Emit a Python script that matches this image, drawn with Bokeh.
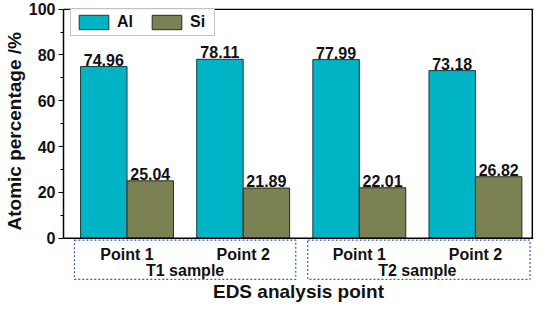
from bokeh.plotting import figure
from bokeh.models import (ColumnDataSource, Range1d, FixedTicker, Legend, LegendItem, Span,
                          Title)
from bokeh.embed import file_html
from bokeh.resources import INLINE
from bokeh.core.properties import value

points = ["Point 1", "Point 2", "Point 1", "Point 2"]
groups = ["T1 sample", "T2 sample"]
al = [74.96, 78.11, 77.99, 73.18]
si = [25.04, 21.89, 22.01, 26.82]

FONT = "Liberation Sans"
AL_COLOR = "#00B4C6"
SI_COLOR = "#7B8153"
TXT = "#111111"

pos = [1, 2, 3, 4]
group_pos = [1.5, 3.5]
bw = 0.4
X_LOW, X_HIGH = 0.453, 4.50
Y_LOW, Y_HIGH = -18.5, 100.3
src_al = ColumnDataSource(dict(x=[q - bw / 2 for q in pos], top=al, lab=[f"{v:.2f}" for v in al]))
src_si = ColumnDataSource(dict(x=[q + bw / 2 for q in pos], top=si, lab=[f"{v:.2f}" for v in si]))

# the frame extends below 0 so that the sample boxes can be drawn inside it
p = figure(width=534, height=304, output_backend="svg", toolbar_location=None,
           x_range=Range1d(X_LOW, X_HIGH), y_range=Range1d(Y_LOW, Y_HIGH),
           min_border_left=60, min_border_right=1, min_border_top=8, min_border_bottom=24)
p.background_fill_color = "white"
p.border_fill_color = "white"
p.grid.visible = False
p.outline_line_color = None

r_al = p.vbar(x="x", top="top", width=bw, source=src_al, fill_color=AL_COLOR,
              line_color="#1b3a3c", line_width=1)
r_si = p.vbar(x="x", top="top", width=bw, source=src_si, fill_color=SI_COLOR,
              line_color="#2a2a1a", line_width=1)

for s in (src_al, src_si):
    p.text(x="x", y="top", text="lab", source=s, text_align="center", text_baseline="bottom",
           y_offset=-1, text_font=value(FONT), text_font_style="bold",
           text_font_size="16px", text_color=TXT)

# box lines: bottom (0), top (100) and right side
p.add_layout(Span(location=0, dimension="width", line_color="black", line_width=1.5))
p.add_layout(Span(location=100, dimension="width", line_color="black", line_width=1.5))
p.segment(x0=[X_HIGH - 0.01], y0=[0], x1=[X_HIGH - 0.01], y1=[100],
          line_color="black", line_width=1.5)

# y axis
ya = p.left[0]
ya.bounds = (0, 100)
ya.ticker = FixedTicker(ticks=[0, 20, 40, 60, 80, 100], minor_ticks=[10, 30, 50, 70, 90])
ya.major_tick_in = 0
ya.major_tick_out = 5
ya.minor_tick_in = 0
ya.minor_tick_out = 3
ya.axis_line_width = 1.5
ya.major_label_text_font = FONT
ya.major_label_text_font_style = "bold"
ya.major_label_text_font_size = "16px"
ya.major_label_text_color = TXT
ya.major_label_standoff = 3

# y title placed along the 0-100 part of the axis
p.add_layout(Title(text="Atomic percentage /%", align="left", offset=50, standoff=2,
                   text_font=FONT, text_font_style="bold", text_font_size="19px",
                   text_color=TXT), "left")

# x axis: only the title
xa = p.below[0]
xa.ticker = FixedTicker(ticks=[])
xa.axis_line_color = None
xa.major_tick_out = 0
xa.minor_tick_out = 0
xa.major_label_standoff = 0
xa.axis_label = "EDS analysis point"
xa.axis_label_text_font = FONT
xa.axis_label_text_font_style = "bold"
xa.axis_label_text_font_size = "19px"
xa.axis_label_text_color = TXT
xa.axis_label_standoff = 0

# point labels, sample labels and dashed sample boxes
p.text(x=pos, y=[-7.0] * len(pos), text=points, text_align="center", text_baseline="middle",
       text_font=value(FONT), text_font_style="bold", text_font_size="16px", text_color=TXT)
p.text(x=group_pos, y=[-14.0] * len(group_pos), text=groups, text_align="center",
       text_baseline="middle", text_font=value(FONT), text_font_style="bold",
       text_font_size="16px", text_color=TXT)
p.quad(left=[0.547, 2.556], right=[2.453, 4.47], top=[-0.9, -0.9], bottom=[-18.0, -18.0],
       fill_alpha=0, line_color="#3a5fa8", line_width=1.2, line_dash="2 2")

legend = Legend(items=[LegendItem(label="Al", renderers=[r_al]),
                       LegendItem(label="Si", renderers=[r_si])],
                orientation="horizontal", location=(7, 244), margin=0,
                padding=4, spacing=11, label_standoff=5,
                glyph_width=37, glyph_height=18,
                label_text_font=FONT, label_text_font_style="bold",
                label_text_font_size="16px", label_text_color=TXT,
                border_line_color="#888888", border_line_width=1.5,
                background_fill_color="white")
p.add_layout(legend)

open("out.html", "w").write(file_html(p, INLINE))
